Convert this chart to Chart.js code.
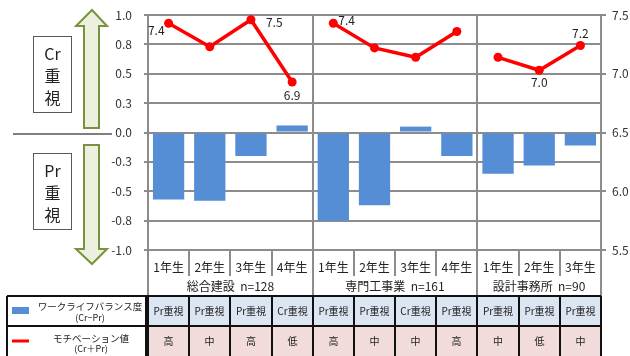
<!DOCTYPE html>
<html>
<head>
<meta charset="utf-8">
<script src="https://cdn.jsdelivr.net/npm/chart.js@4"></script>
<style>
  html, body { margin: 0; padding: 0; background: #fff; }
  #wrap { width: 630px; height: 356px; }
</style>
</head>
<body>
<div id="wrap"><canvas id="wlbChart" width="630" height="356"></canvas></div>
<script>
// カテゴリ（学年）とグループ
const grades = ['1年生', '2年生', '3年生', '4年生', '1年生', '2年生', '3年生', '4年生', '1年生', '2年生', '3年生'];
const groupNames = ['総合建設  n=128', '専門工事業  n=161', '設計事務所  n=90'];
const groupSizes = [4, 4, 3];

// ワークライフバランス度 (Cr−Pr)
const balance = [-0.57, -0.58, -0.2, 0.06, -0.75, -0.62, 0.05, -0.2, -0.35, -0.28, -0.11];
// モチベーション値 (Cr＋Pr)
const motivation = [7.43, 7.23, 7.46, 6.93, 7.43, 7.22, 7.14, 7.36, 7.14, 7.03, 7.24];
// 値ラベルを出す点
const labelledPoints = [0, 2, 3, 4, 9, 10];

// 表の中身
const emphasisRow = ['Pr重視', 'Pr重視', 'Pr重視', 'Cr重視', 'Pr重視', 'Pr重視', 'Cr重視', 'Pr重視', 'Pr重視', 'Pr重視', 'Pr重視'];
const levelRow = ['高', '中', '高', '低', '高', '中', '中', '高', '中', '低', '中'];

const FONT = '"Noto Sans CJK JP", "Noto Sans", sans-serif';
const GRID = '#8c8c8c';
const RED = '#ff0000';
const BLUE = '#558ed5';

// ラベルの置き方 [dx, dy, align]
const labelPlace = {
  0: [-4, 7, 'right'],
  2: [15, 3, 'left'],
  3: [0, 13, 'center'],
  4: [5, -3, 'left'],
  9: [0, 12, 'center'],
  10: [0, -12, 'center']
};

const groupBreaks = [];
groupSizes.reduce((acc, n) => { groupBreaks.push(acc + n - 1); return acc + n; }, 0);

function drawArrow(ctx, pts) {
  ctx.beginPath();
  pts.forEach(([x, y], i) => i ? ctx.lineTo(x, y) : ctx.moveTo(x, y));
  ctx.closePath();
  ctx.fillStyle = '#ebf1de';
  ctx.fill();
  ctx.strokeStyle = '#77933c';
  ctx.lineWidth = 2;
  ctx.stroke();
}

function drawTagBox(ctx, x, y, w, h, lines) {
  ctx.fillStyle = '#fff';
  ctx.fillRect(x, y, w, h);
  ctx.strokeStyle = '#595959';
  ctx.lineWidth = 1;
  ctx.strokeRect(x + 0.5, y + 0.5, w, h);
  ctx.fillStyle = '#222';
  ctx.font = '16px ' + FONT;
  ctx.textAlign = 'center';
  ctx.textBaseline = 'middle';
  lines.forEach((t, i) => ctx.fillText(t, x + w / 2 + 0.5, y + 18 + i * 22));
}

// 縦軸の幅を固定し、上下の余白はラベル半分だけにする
const fixAxis = width => s => {
  s.width = width;
  s.paddingTop = 7;
  s.paddingBottom = 7;
};

const extras = {
  id: 'extras',
  afterDraw(chart) {
    const { ctx, chartArea: area, scales } = chart;
    const yL = scales.y;
    const n = grades.length;
    const w = (area.right - area.left) / n;
    const edge = i => Math.round(area.left + i * w);
    ctx.save();

    // 区切り線
    ctx.strokeStyle = GRID;
    ctx.lineWidth = 2;
    const groupEdges = [0];
    groupSizes.forEach(s => groupEdges.push(groupEdges[groupEdges.length - 1] + s));
    for (let i = 0; i <= n; i++) {
      const isGroup = groupEdges.includes(i);
      const inner = isGroup && i > 0 && i < n;
      ctx.beginPath();
      ctx.moveTo(edge(i), inner ? area.top : area.bottom);
      ctx.lineTo(edge(i), isGroup ? 296 : 276);
      ctx.stroke();
    }

    // グループ名
    ctx.fillStyle = '#222';
    ctx.font = '12px ' + FONT;
    ctx.textAlign = 'center';
    ctx.textBaseline = 'middle';
    groupNames.forEach((g, k) => {
      const cx = (edge(groupEdges[k]) + edge(groupEdges[k + 1])) / 2;
      ctx.fillText(g, cx, 286);
    });

    // 値ラベル
    const meta = chart.getDatasetMeta(0);
    ctx.font = '12px ' + FONT;
    labelledPoints.forEach(i => {
      const p = meta.data[i];
      const [dx, dy, align] = labelPlace[i];
      ctx.textAlign = align;
      ctx.fillText(motivation[i].toFixed(1), p.x + dx, p.y + dy);
    });

    // 表
    const top = 296, rh = 30, tl = 7;
    for (let i = 0; i < n; i++) {
      ctx.fillStyle = '#dce6f2';
      ctx.fillRect(edge(i), top, edge(i + 1) - edge(i), rh);
      ctx.fillStyle = '#f2dcdb';
      ctx.fillRect(edge(i), top + rh, edge(i + 1) - edge(i), rh);
    }
    ctx.fillStyle = '#fff';
    ctx.fillRect(tl, top, area.left - tl, rh * 2);
    ctx.strokeStyle = '#111';
    ctx.lineWidth = 2;
    ctx.beginPath();
    [top, top + rh].forEach(y => { ctx.moveTo(tl, y); ctx.lineTo(edge(n), y); });
    ctx.moveTo(tl, top); ctx.lineTo(tl, top + rh * 2);
    for (let i = 0; i <= n; i++) { ctx.moveTo(edge(i), top); ctx.lineTo(edge(i), top + rh * 2); }
    ctx.moveTo(area.left - 2, top); ctx.lineTo(area.left - 2, top + rh * 2);
    ctx.stroke();

    ctx.fillStyle = '#222';
    ctx.font = '10px ' + FONT;
    ctx.textAlign = 'center';
    for (let i = 0; i < n; i++) {
      const cx = (edge(i) + edge(i + 1)) / 2;
      ctx.fillText(emphasisRow[i], cx, top + rh / 2);
      ctx.fillText(levelRow[i], cx, top + rh * 1.5);
    }

    // 凡例
    ctx.fillStyle = BLUE;
    ctx.fillRect(12, 307, 17, 7);
    ctx.strokeStyle = RED;
    ctx.lineWidth = 3;
    ctx.beginPath();
    ctx.moveTo(12, 341); ctx.lineTo(29, 341);
    ctx.stroke();
    ctx.fillStyle = '#222';
    ctx.font = '9.5px ' + FONT;
    ctx.fillText('ワークライフバランス度', 90, 306);
    ctx.fillText('モチベーション値', 91, 338);
    ctx.font = '9px ' + FONT;
    ctx.fillText('(Cr−Pr)', 90, 318);
    ctx.fillText('(Cr＋Pr)', 91, 349);

    // 左側の矢印と見出し
    const y0 = Math.round(yL.getPixelForValue(0));
    drawArrow(ctx, [[92, y0 - 123], [107, y0 - 107], [99, y0 - 107], [99, y0 - 5], [84, y0 - 5], [84, y0 - 107], [76, y0 - 107]]);
    drawArrow(ctx, [[84, y0 + 12], [99, y0 + 12], [99, y0 + 116], [107, y0 + 116], [92, y0 + 131], [76, y0 + 116], [84, y0 + 116]]);
    ctx.strokeStyle = '#7f7f7f';
    ctx.lineWidth = 2;
    ctx.beginPath();
    ctx.moveTo(13, y0 + 1); ctx.lineTo(112, y0 + 1);
    ctx.stroke();
    drawTagBox(ctx, 33, y0 - 97, 38, 76, ['Cr', '重', '視']);
    drawTagBox(ctx, 33, y0 + 20, 38, 76, ['Pr', '重', '視']);

    ctx.restore();
  }
};

new Chart(document.getElementById('wlbChart'), {
  type: 'bar',
  data: {
    labels: grades,
    datasets: [
      {
        type: 'line',
        label: 'モチベーション値',
        data: motivation,
        yAxisID: 'y2',
        borderColor: RED,
        borderWidth: 3.5,
        pointRadius: 4.5,
        pointBackgroundColor: RED,
        pointBorderWidth: 0,
        tension: 0,
        segment: {
          borderColor: c => groupBreaks.includes(c.p0DataIndex) ? 'rgba(0,0,0,0)' : RED
        }
      },
      {
        label: 'ワークライフバランス度',
        data: balance,
        yAxisID: 'y',
        backgroundColor: BLUE,
        categoryPercentage: 1,
        barPercentage: 0.76
      }
    ]
  },
  options: {
    responsive: false,
    animation: false,
    layout: { padding: { top: 15, left: 0, right: 0, bottom: 0 } },
    plugins: { legend: { display: false }, tooltip: { enabled: false } },
    scales: {
      x: {
        grid: { display: false },
        border: { display: false },
        ticks: { color: '#222', font: { family: FONT, size: 12 }, padding: 2, maxRotation: 0, autoSkip: false },
        afterFit: s => { s.height = 106; }
      },
      y: {
        position: 'left',
        min: -1, max: 1,
        ticks: { stepSize: 0.25, color: '#333', font: { family: FONT, size: 12 }, padding: 12, callback: v => v.toFixed(1) },
        grid: { color: GRID, lineWidth: 2, tickLength: 4 },
        border: { color: GRID, width: 2 },
        afterFit: fixAxis(148)
      },
      y2: {
        position: 'right',
        min: 5.5, max: 7.5,
        ticks: { stepSize: 0.5, color: '#333', font: { family: FONT, size: 12 }, padding: 6, callback: v => v.toFixed(1) },
        grid: { drawOnChartArea: false, color: GRID, lineWidth: 2, tickLength: 5 },
        border: { color: GRID, width: 2 },
        afterFit: fixAxis(29)
      }
    }
  },
  plugins: [extras]
});
</script>
</body>
</html>
